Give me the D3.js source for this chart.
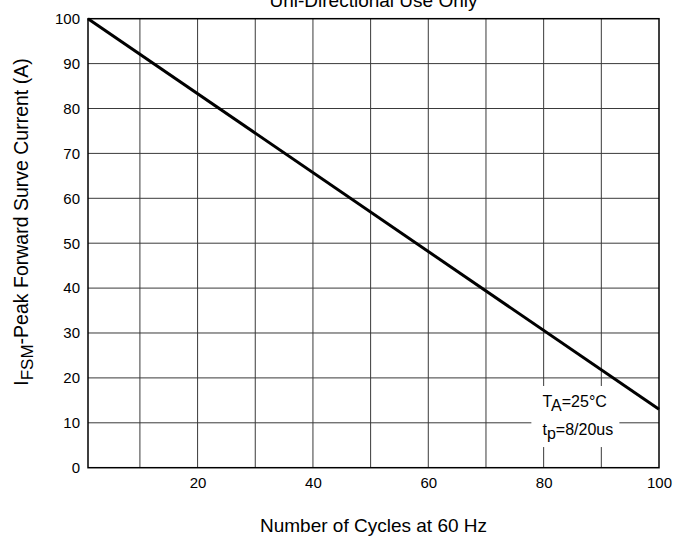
<!DOCTYPE html>
<html>
<head>
<meta charset="utf-8">
<script src="https://cdn.jsdelivr.net/npm/d3@7"></script>
<style>
    body { margin: 0; background: #fff; }
    svg { display: block; font-family: Arial, 'Liberation Sans', sans-serif; }
</style>
</head>
<body>
<figure id="chart" style="margin:0"></figure>
<script>
// Chart data
const cycles = [1, 100]
const current = [100, 13]
const xTickLabels = [20, 40, 60, 80, 100]
const xGrid = [10, 20, 30, 40, 50, 60, 70, 80, 90]
const yTickLabels = [0, 10, 20, 30, 40, 50, 60, 70, 80, 90, 100]
const yGrid = [10, 20, 30, 40, 50, 60, 70, 80, 90]
const titleText = 'Uni-Directional Use Only'
const xLabelText = 'Number of Cycles at 60 Hz'
const noteLines = [['T', 'A', '=25°C'], ['t', 'p', '=8/20us']]

const margin = { top: 18.7, right: 32, bottom: 70.3, left: 88 }
const W = 691, H = 538
const width = W - margin.left - margin.right
const height = H - margin.top - margin.bottom

const svg = d3.select('figure#chart')
    .append('svg')
    .attr('width', W)
    .attr('height', H)

const g = svg.append('g')
    .attr('transform', `translate(${margin.left}, ${margin.top})`)

// Scales
const x = d3.scaleLinear().domain([1, 100]).range([0, width])
const y = d3.scaleLinear().domain([0, 100]).range([height, 0])

// Grid
g.selectAll('.vgrid').data(xGrid).join('line')
    .attr('class', 'vgrid')
    .attr('x1', d => x(d)).attr('x2', d => x(d))
    .attr('y1', 0).attr('y2', height)
    .attr('stroke', '#3a3a3a').attr('stroke-width', 1)
g.selectAll('.hgrid').data(yGrid).join('line')
    .attr('class', 'hgrid')
    .attr('x1', 0).attr('x2', width)
    .attr('y1', d => y(d)).attr('y2', d => y(d))
    .attr('stroke', '#3a3a3a').attr('stroke-width', 1)

// Axes (labels only, the frame is drawn separately)
const xAxis = d3.axisBottom(x).tickValues(xTickLabels).tickSize(0).tickPadding(10)
const yAxis = d3.axisLeft(y).tickValues(yTickLabels).tickSize(0).tickPadding(8)
const xa = g.append('g').attr('transform', `translate(0, ${height})`).call(xAxis)
const ya = g.append('g').call(yAxis)
for (const a of [xa, ya]) {
    a.select('.domain').remove()
    a.selectAll('text')
        .attr('font-size', '15px')
        .attr('font-family', 'Arial, Liberation Sans, sans-serif')
        .attr('fill', '#000')
}

// White box behind the note
g.append('rect')
    .attr('x', x(85.5) - 44).attr('y', y(18.2))
    .attr('width', 88).attr('height', y(4.6) - y(18.2))
    .attr('fill', '#fff')

// Curve
const line = d3.line().x(d => x(d[0])).y(d => y(d[1]))
g.append('path')
    .datum(d3.zip(cycles, current))
    .attr('d', line)
    .attr('fill', 'none')
    .attr('stroke', '#000')
    .attr('stroke-width', 3)

// Frame
g.append('rect')
    .attr('width', width).attr('height', height)
    .attr('fill', 'none')
    .attr('stroke', '#000').attr('stroke-width', 1.5)

// Note
const note = g.append('g')
    .attr('font-size', '16px')
noteLines.forEach((parts, i) => {
    const t = note.append('text')
        .attr('x', x(79.8))
        .attr('y', y(13.5) + i * 27.5)
    t.append('tspan').text(parts[0])
    t.append('tspan').attr('dy', 4).text(parts[1])
    t.append('tspan').attr('dy', -4).text(parts[2])
})

// Title (partly cut off by the top edge, as in the original)
svg.append('text')
    .attr('x', margin.left + width / 2)
    .attr('y', 7)
    .attr('text-anchor', 'middle')
    .attr('font-size', '19px')
    .text(titleText)

// X label
svg.append('text')
    .attr('x', margin.left + width / 2)
    .attr('y', 532)
    .attr('text-anchor', 'middle')
    .attr('font-size', '19px')
    .text(xLabelText)

// Y label with subscript
const yl = svg.append('text')
    .attr('transform', 'translate(28, 222) rotate(-90)')
    .attr('text-anchor', 'middle')
    .attr('font-size', '19.5px')
yl.append('tspan').text('I')
yl.append('tspan').attr('dy', 5).attr('font-size', '17px').text('FSM')
yl.append('tspan').attr('dy', -5).text('-Peak Forward Surve Current (A)')
</script>
</body>
</html>
